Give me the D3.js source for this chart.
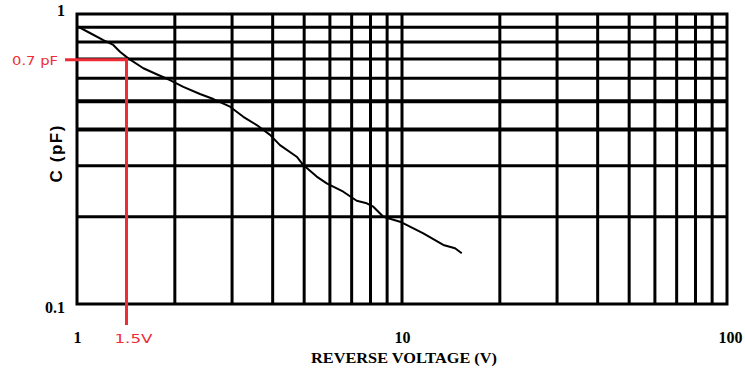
<!DOCTYPE html>
<html>
<head>
<meta charset="utf-8">
<script src="https://cdn.jsdelivr.net/npm/d3@7"></script>
<style>
  html, body { margin: 0; padding: 0; background: #fff; }
  svg { display: block; }
</style>
</head>
<body>
<svg id="chart" width="745" height="369"></svg>
<script>
// ---- data ----
const voltage = [1.00, 1.096, 1.205, 1.293, 1.356, 1.438, 1.600, 1.779, 1.932, 2.124, 2.39, 2.627, 2.957, 3.249, 3.573, 3.926, 4.213, 4.743, 4.970, 5.465, 5.866, 6.597, 7.255, 7.789, 8.160, 8.760, 9.86, 10.58, 11.63, 13.40, 14.56, 15.27];
const capacitance = [0.909, 0.860, 0.813, 0.782, 0.741, 0.703, 0.650, 0.616, 0.592, 0.561, 0.530, 0.509, 0.479, 0.442, 0.414, 0.383, 0.353, 0.322, 0.3015, 0.275, 0.2607, 0.2439, 0.227, 0.2225, 0.2165, 0.200, 0.1922, 0.1848, 0.1753, 0.1598, 0.1556, 0.1496];
const xGrid = [2, 3, 4, 5, 6, 7, 8, 9, 10, 20, 30, 40, 50, 60, 70, 80, 90];
const yGrid = [0.2, 0.3, 0.4, 0.5, 0.6, 0.7, 0.8, 0.9];
const xTicks = [1, 10, 100];
const yTicks = [0.1, 1];
const xTickLabels = ["1", "10", "100"];
const yTickLabels = ["0.1", "1"];
const xTitle = "REVERSE VOLTAGE (V)";
const yTitle = "C (pF)";
const markerV = 1.42;   // drawn position of the red marker
const markerC = 0.695;
const markerVLabel = "1.5V";
const markerCLabel = "0.7 pF";

// ---- layout ----
const L = 77, R = 727, T = 14, B = 304;
const svg = d3.select("#chart");
const x = d3.scaleLog().domain([1, 100]).range([L, R]);
const y = d3.scaleLog().domain([0.1, 1]).range([B, T]);
const red = "#ee2c36";

// grid
svg.append("g").selectAll("line").data(xGrid).join("line")
  .attr("x1", d => x(d)).attr("x2", d => x(d))
  .attr("y1", T).attr("y2", B)
  .attr("stroke", "#000").attr("stroke-width", 3);
svg.append("g").selectAll("line").data(yGrid).join("line")
  .attr("x1", L).attr("x2", R)
  .attr("y1", d => y(d)).attr("y2", d => y(d))
  .attr("stroke", "#000").attr("stroke-width", d => (d === 0.5 || d === 0.4) ? 4 : 3);

// frame
svg.append("rect")
  .attr("x", L).attr("y", T).attr("width", R - L).attr("height", B - T)
  .attr("fill", "none").attr("stroke", "#000").attr("stroke-width", 3);

// curve
const pts = voltage.map((v, i) => [v, capacitance[i]]);
svg.append("path")
  .datum(pts)
  .attr("d", d3.line().x(d => x(d[0])).y(d => y(d[1])))
  .attr("fill", "none").attr("stroke", "#000").attr("stroke-width", 2)
  .attr("stroke-linejoin", "round");

// red marker
svg.append("line")
  .attr("x1", 65).attr("x2", x(markerV))
  .attr("y1", y(markerC)).attr("y2", y(markerC))
  .attr("stroke", red).attr("stroke-width", 3);
svg.append("line")
  .attr("x1", x(markerV)).attr("x2", x(markerV))
  .attr("y1", y(markerC) - 1.5).attr("y2", 325)
  .attr("stroke", red).attr("stroke-width", 3);
svg.append("text")
  .attr("x", 58).attr("y", y(markerC) + 5)
  .attr("text-anchor", "end")
  .attr("font-family", "'DejaVu Sans', sans-serif").attr("font-size", 13)
  .attr("fill", red)
  .attr("textLength", 46).attr("lengthAdjust", "spacingAndGlyphs")
  .text(markerCLabel);
svg.append("text")
  .attr("x", x(markerV) + 7).attr("y", 343)
  .attr("text-anchor", "middle")
  .attr("font-family", "'DejaVu Sans', sans-serif").attr("font-size", 13)
  .attr("fill", red)
  .attr("textLength", 38).attr("lengthAdjust", "spacingAndGlyphs")
  .text(markerVLabel);

// axes tick labels
const xAxis = d3.axisBottom(x).tickValues(xTicks).tickSize(0).tickPadding(0)
  .tickFormat((d, i) => xTickLabels[i]);
const gx = svg.append("g").attr("transform", `translate(0, ${B})`).call(xAxis);
gx.select(".domain").remove();
gx.selectAll("text")
  .attr("font-family", "'Liberation Serif', serif").attr("font-weight", "bold")
  .attr("font-size", 16).attr("fill", "#000")
  .attr("dy", null).attr("y", 39)
  .attr("text-anchor", (d, i) => i === 2 ? "end" : "middle")
  .attr("dx", (d, i) => i === 2 ? 15 : 0);

const yAxis = d3.axisLeft(y).tickValues(yTicks).tickSize(0).tickPadding(0)
  .tickFormat((d, i) => yTickLabels[i]);
const gy = svg.append("g").attr("transform", `translate(${L}, 0)`).call(yAxis);
gy.select(".domain").remove();
gy.selectAll("text")
  .attr("font-family", "'Liberation Serif', serif").attr("font-weight", "bold")
  .attr("font-size", 16).attr("fill", "#000")
  .attr("x", -12).attr("dy", (d) => d === 1 ? "0.1em" : "0.55em");

// titles
svg.append("text")
  .attr("x", 404).attr("y", 363)
  .attr("text-anchor", "middle")
  .attr("font-family", "'Liberation Serif', serif").attr("font-weight", "bold")
  .attr("font-size", 15).attr("fill", "#000")
  .attr("textLength", 186).attr("lengthAdjust", "spacingAndGlyphs")
  .text(xTitle);
svg.append("text")
  .attr("transform", "translate(62, 154) rotate(-90)")
  .attr("text-anchor", "middle")
  .attr("font-family", "'Liberation Sans', Arial, sans-serif").attr("font-weight", "bold")
  .attr("font-size", 17).attr("fill", "#000")
  .attr("textLength", 57).attr("lengthAdjust", "spacing")
  .text(yTitle);
</script>
</body>
</html>
